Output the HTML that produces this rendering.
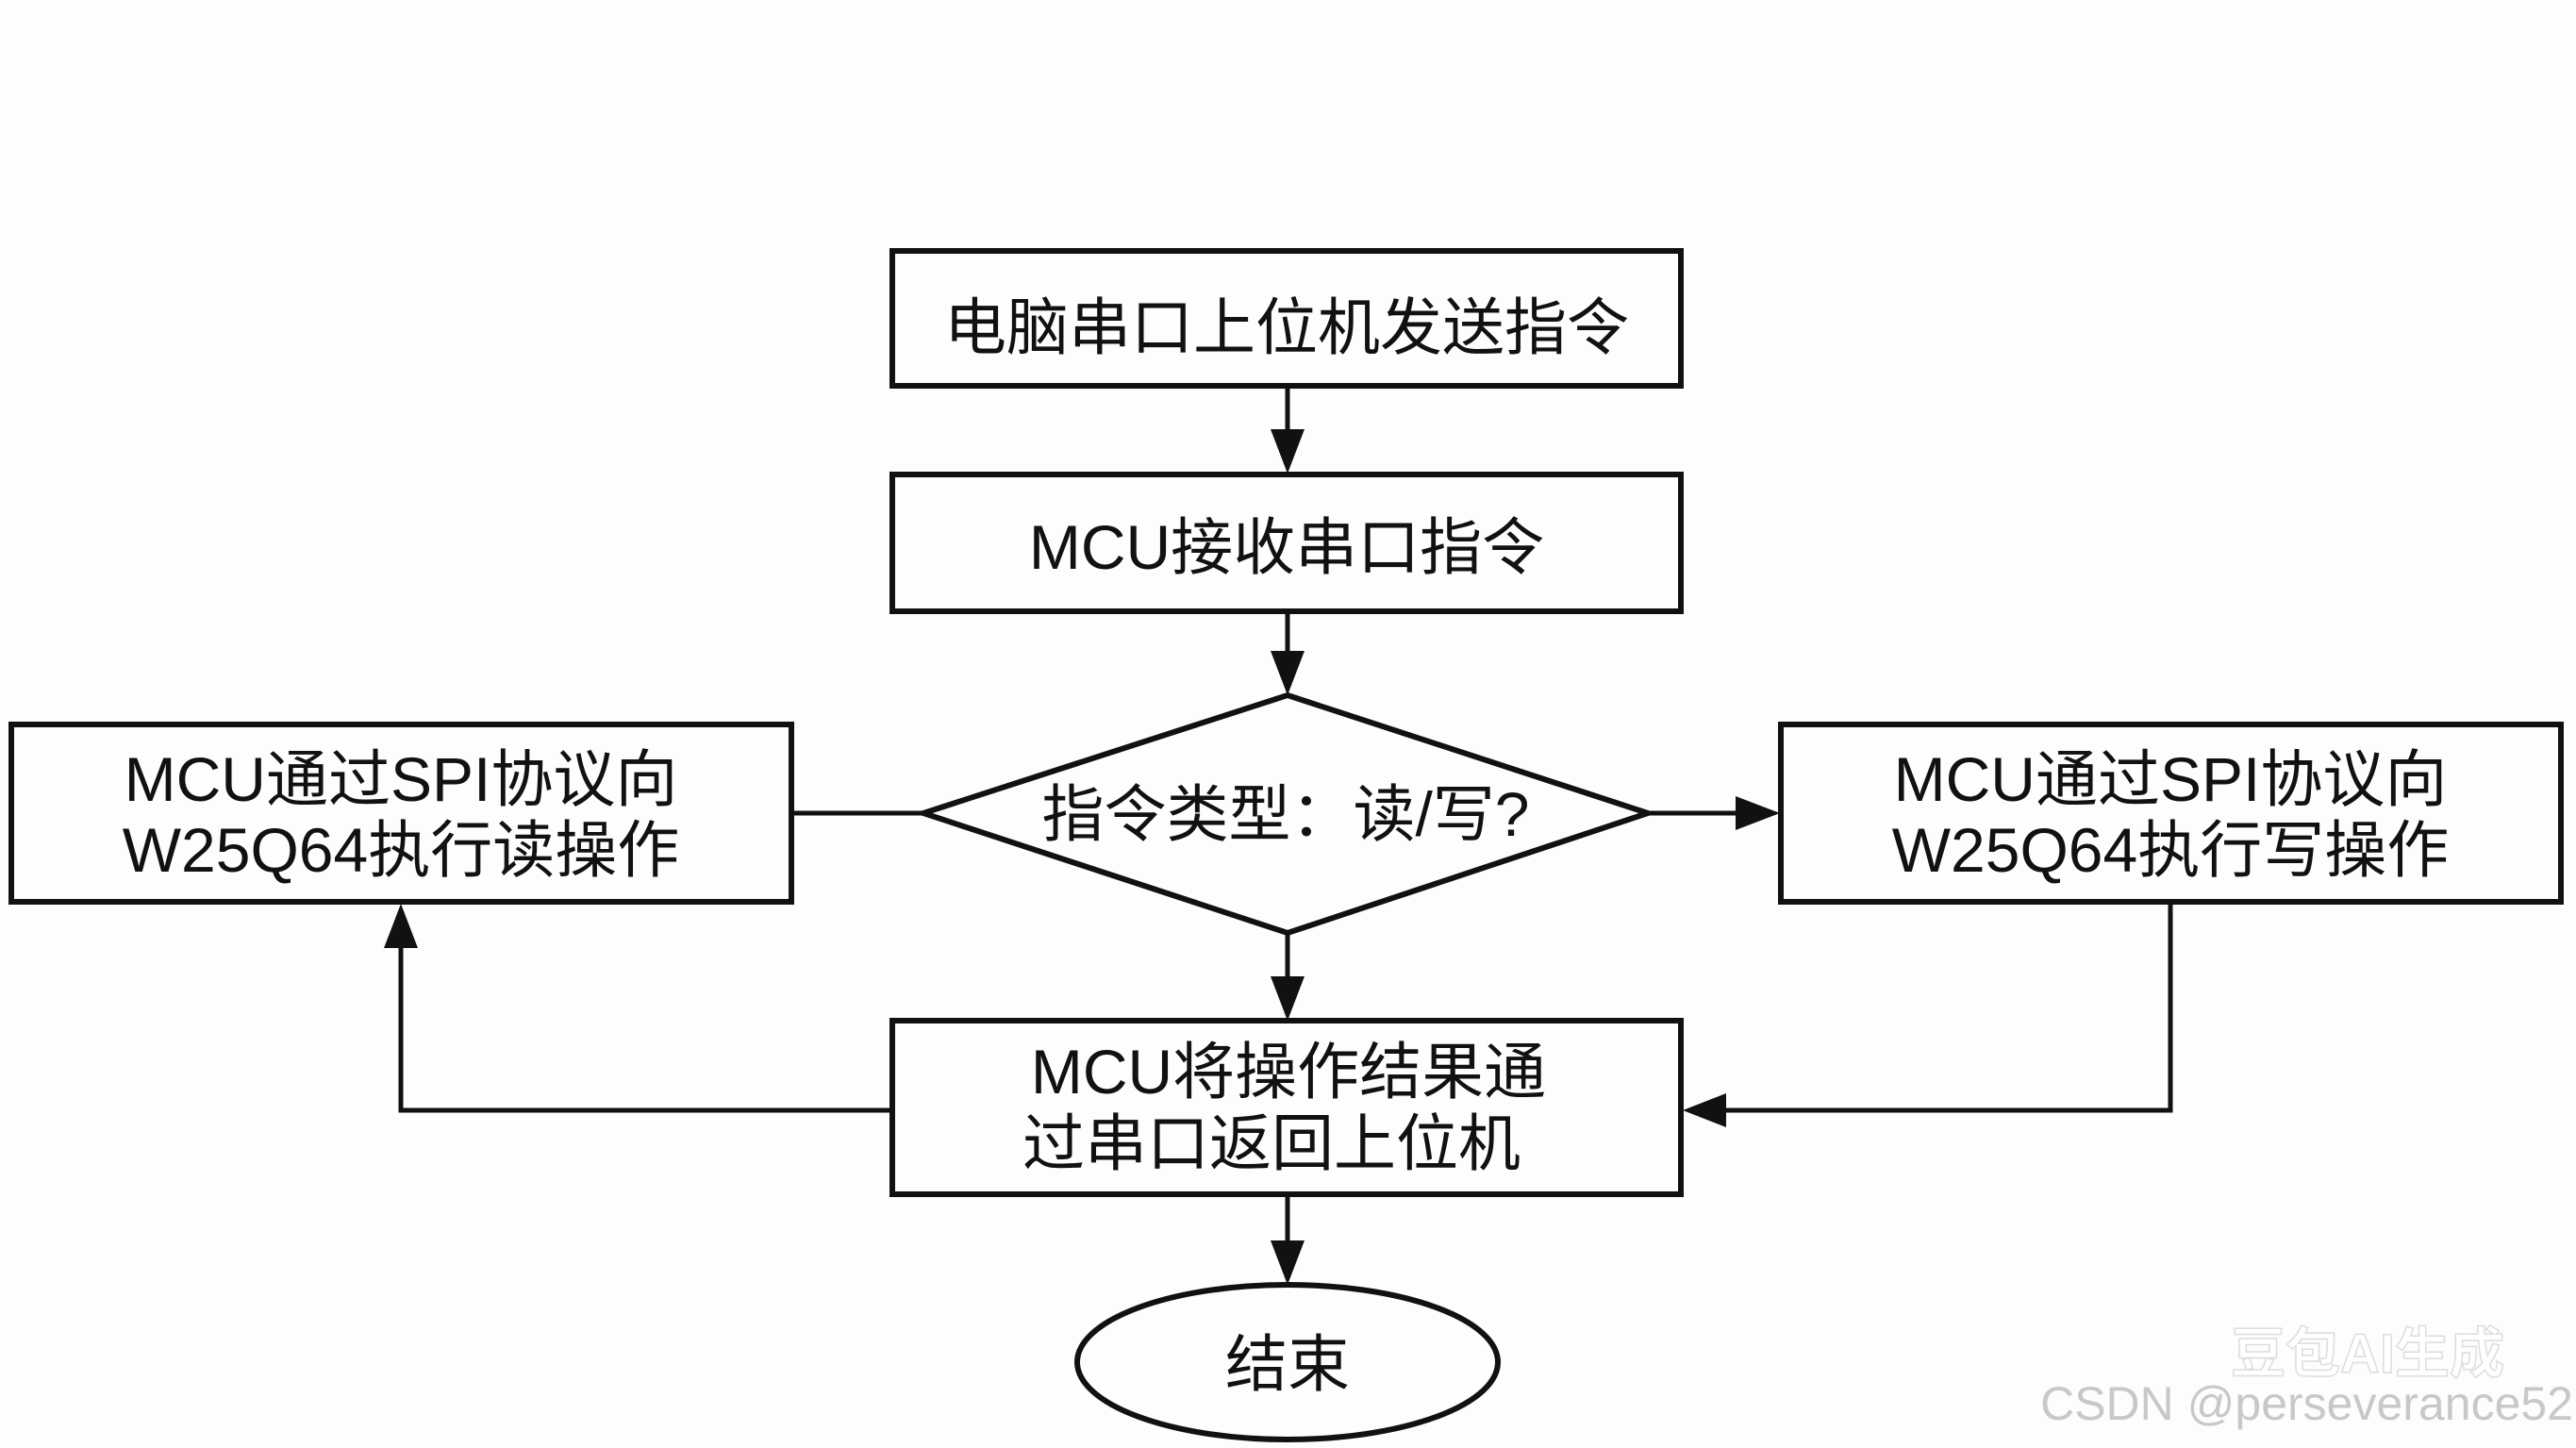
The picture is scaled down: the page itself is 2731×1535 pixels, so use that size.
<!DOCTYPE html>
<html><head><meta charset="utf-8"><style>
html,body{margin:0;padding:0;background:#fff}
svg{display:block}
text{font-family:"Liberation Sans","Noto Sans CJK SC",sans-serif;fill:#111}
</style></head><body>
<svg width="2731" height="1535" viewBox="0 0 2731 1535" xmlns="http://www.w3.org/2000/svg">
<rect width="2731" height="1535" fill="#fdfdfd"/>
<g fill="none" stroke="#111" stroke-width="6">
<rect x="946" y="266" width="836" height="143"/>
<rect x="946" y="503" width="836" height="145"/>
<polygon points="1365,737 1747,862 1365,989 979,862"/>
<rect x="12" y="768" width="827" height="188"/>
<rect x="1888" y="768" width="827" height="188"/>
<rect x="946" y="1082" width="836" height="184"/>
<ellipse cx="1365" cy="1444" rx="223" ry="82"/>
</g>
<g fill="none" stroke="#111" stroke-width="5">
<line x1="1365" y1="409" x2="1365" y2="460"/>
<line x1="1365" y1="648" x2="1365" y2="695"/>
<line x1="839" y1="862" x2="979" y2="862"/>
<line x1="1747" y1="862" x2="1845" y2="862"/>
<line x1="1365" y1="989" x2="1365" y2="1040"/>
<polyline points="946,1177 425,1177 425,1000"/>
<polyline points="2301,956 2301,1177 1825,1177"/>
<line x1="1365" y1="1266" x2="1365" y2="1320"/>
</g>
<g fill="#111">
<polygon points="1347,455 1383,455 1365,502"/>
<polygon points="1347,690 1383,690 1365,737"/>
<polygon points="1840,844 1840,880 1887,862"/>
<polygon points="1347,1035 1383,1035 1365,1082"/>
<polygon points="407,1005 443,1005 425,958"/>
<polygon points="1830,1159 1830,1195 1784,1177"/>
<polygon points="1347,1315 1383,1315 1365,1362"/>
</g>
<g font-size="66" text-anchor="middle">
<text x="1364" y="370">电脑串口上位机发送指令</text>
<text x="1364" y="603">MCU接收串口指令</text>
<text x="1363" y="886">指令类型：读/写?</text>
<text x="425" y="849">MCU通过SPI协议向</text>
<text x="425" y="924">W25Q64执行读操作</text>
<text x="2301" y="849">MCU通过SPI协议向</text>
<text x="2301" y="924">W25Q64执行写操作</text>
<text x="1366" y="1159">MCU将操作结果通</text>
<text x="1348" y="1235">过串口返回上位机</text>
<text x="1365" y="1469">结束</text>
</g>
<text x="2510" y="1455" font-size="58" font-weight="bold" text-anchor="middle" style="fill:#fff;stroke:#ddd;stroke-width:1.5">豆包AI生成</text>
<text x="2728" y="1505" font-size="50" text-anchor="end" style="fill:#c8c8c8">CSDN @perseverance52</text>
</svg>
</body></html>
